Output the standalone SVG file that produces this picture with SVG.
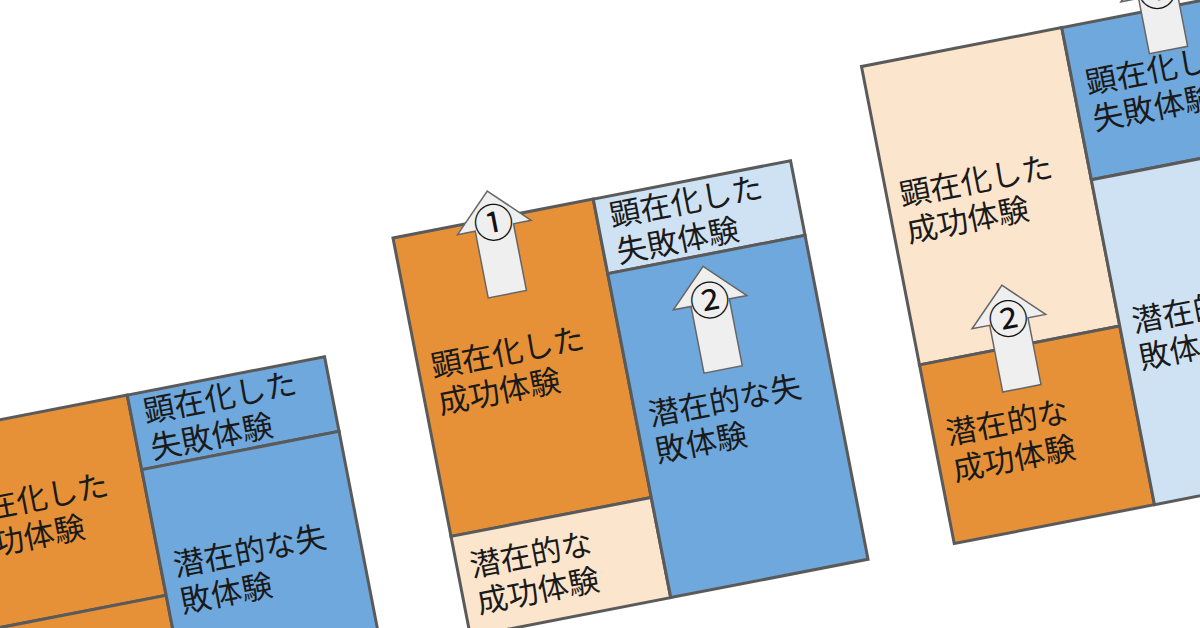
<svg xmlns="http://www.w3.org/2000/svg" xmlns:xlink="http://www.w3.org/1999/xlink" width="1200" height="628" viewBox="0 0 1200 628">
<style>
.box{stroke:#5a5a5a;stroke-width:3}
.or{fill:#E69138}.lo{fill:#FCE5CD}.bl{fill:#6FA8DC}.lb{fill:#CFE2F3}
.t{font-family:"Noto Sans CJK JP","Noto Sans",sans-serif;font-size:31px;fill:#1a1a1a}
.arr{fill:#EFEFEF;stroke:#666;stroke-width:1.5;stroke-linejoin:miter}
.num{font-family:"Noto Sans CJK JP","Noto Sans",sans-serif;font-size:40px;text-anchor:middle;fill:#111}
</style>
<defs>
<path id="arrow" d="M0,0 L37.5,37 L19.5,37 L19.5,105 L-19.5,105 L-19.5,37 L-37.5,37 Z"/>
</defs>
<rect width="1200" height="628" fill="#ffffff"/>

<g id="diagram1" transform="translate(-73,434) rotate(-11)">
  <g id="d1-success-explicit"><rect class="box or" x="0" y="0" width="204" height="204"/>
    <text class="t"><tspan x="13" y="95">顕在化した</tspan><tspan x="13" y="132">成功体験</tspan></text></g>
  <g id="d1-success-latent"><rect class="box or" x="0" y="204" width="204" height="109"/></g>
  <g id="d1-failure-explicit"><rect class="box bl" x="204" y="0" width="201" height="76"/>
    <text class="t"><tspan x="217" y="31">顕在化した</tspan><tspan x="217" y="68">失敗体験</tspan></text></g>
  <g id="d1-failure-latent"><rect class="box bl" x="204" y="76" width="201" height="237"/>
    <text class="t"><tspan x="217" y="187.5">潜在的な失</tspan><tspan x="217" y="224.5">敗体験</tspan></text></g>
</g>

<g id="diagram2" transform="translate(393,238) rotate(-11)">
  <g id="d2-success-explicit"><rect class="box or" x="0" y="0" width="204" height="304"/>
    <text class="t"><tspan x="13" y="145">顕在化した</tspan><tspan x="13" y="182">成功体験</tspan></text></g>
  <g id="d2-success-latent"><rect class="box lo" x="0" y="304" width="204" height="102"/>
    <text class="t"><tspan x="13" y="348">潜在的な</tspan><tspan x="13" y="385">成功体験</tspan></text></g>
  <g id="d2-failure-explicit"><rect class="box lb" x="204" y="0" width="201" height="76"/>
    <text class="t"><tspan x="217" y="31">顕在化した</tspan><tspan x="217" y="68">失敗体験</tspan></text></g>
  <g id="d2-failure-latent"><rect class="box bl" x="204" y="76" width="201" height="330"/>
    <text class="t"><tspan x="217" y="234">潜在的な失</tspan><tspan x="217" y="271">敗体験</tspan></text></g>
  <g id="d2-connectors">
    <use xlink:href="#arrow" class="arr" transform="translate(101.5,-28)"/>
    <text class="num" x="101.5" y="19">①</text>
    <use xlink:href="#arrow" class="arr" transform="translate(299,87)"/>
    <text class="num" x="299" y="136.5">②</text>
  </g>
</g>

<g id="diagram3" transform="translate(861.5,66.5) rotate(-11)">
  <g id="d3-success-explicit"><rect class="box lo" x="0" y="0" width="204" height="304"/>
    <text class="t"><tspan x="13" y="145">顕在化した</tspan><tspan x="13" y="182">成功体験</tspan></text></g>
  <g id="d3-success-latent"><rect class="box or" x="0" y="304" width="204" height="182"/>
    <text class="t"><tspan x="13" y="388">潜在的な</tspan><tspan x="13" y="425">成功体験</tspan></text></g>
  <g id="d3-failure-explicit"><rect class="box bl" x="204" y="0" width="201" height="155"/>
    <text class="t"><tspan x="217" y="70.5">顕在化した</tspan><tspan x="217" y="107.5">失敗体験</tspan></text></g>
  <g id="d3-failure-latent"><rect class="box lb" x="204" y="155" width="201" height="331"/>
    <text class="t"><tspan x="217" y="313.5">潜在的な失</tspan><tspan x="217" y="350.5">敗体験</tspan></text></g>
  <g id="d3-connectors">
    <path class="arr" d="M304.5,-51 L342,-14 L324,-14 L324,42.4 L285,42.4 L285,-14 L267,-14 Z"/>
    <text class="num" x="304.5" y="-3">①</text>
    <use xlink:href="#arrow" class="arr" transform="translate(96,241.5)"/>
    <text class="num" x="96" y="290.5">②</text>
  </g>
</g>
</svg>
